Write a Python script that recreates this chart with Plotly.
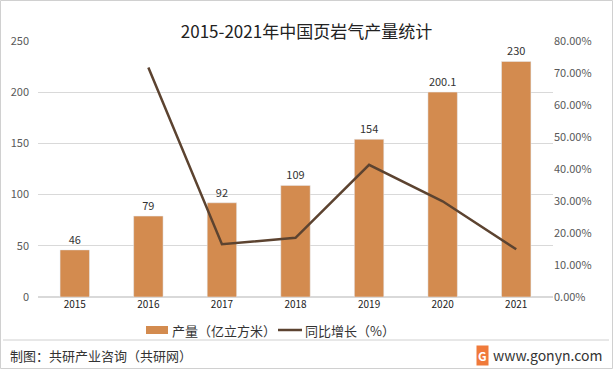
import plotly.graph_objects as go

years = ["2015", "2016", "2017", "2018", "2019", "2020", "2021"]
output = [46, 79, 92, 109, 154, 200.1, 230]
output_labels = ["46", "79", "92", "109", "154", "200.1", "230"]
growth_years = ["2016", "2017", "2018", "2019", "2020", "2021"]
growth = [0.717, 0.165, 0.185, 0.413, 0.299, 0.149]
series_names = ["产量（亿立方米）", "同比增长（%）"]

bar_color = "#D38B4F"
line_color = "#5C4330"
font = "Noto Sans CJK SC, Noto Sans, sans-serif"

W, H = 613, 369
L, R, T, B = 38, 60, 41, 72
PW, PH = W - L - R, H - T - B


def px(x):
    return (x - L) / PW


def py(y):
    return (H - B - y) / PH


fig = go.Figure()
fig.add_trace(go.Bar(
    x=years, y=output, name=series_names[0], marker_color=bar_color,
    text=output_labels, textposition="outside", cliponaxis=False,
    textfont=dict(size=11, color="#333333"), width=0.4,
))
fig.add_trace(go.Scatter(
    x=growth_years, y=growth, name=series_names[1], mode="lines",
    line=dict(color=line_color, width=2.5), yaxis="y2",
))

fig.update_layout(
    width=W, height=H,
    margin=dict(l=L, r=R, t=T, b=B),
    paper_bgcolor="white", plot_bgcolor="white",
    font=dict(family=font, color="#404040", size=11),
    title=dict(text="2015-2021年中国页岩气产量统计", x=0.5, xanchor="center",
               y=1 - 32 / H, yanchor="middle", font=dict(size=17, color="#222222")),
    xaxis=dict(showgrid=False, showline=False, ticks="", tickfont=dict(size=10, color="#222222")),
    yaxis=dict(range=[0, 250], dtick=50, showgrid=True, gridcolor="#D9D9D9",
               zeroline=True, zerolinecolor="#D9D9D9", tickfont=dict(size=11, color="#595959"),
               ticklabelstandoff=8),
    yaxis2=dict(range=[0, 0.8], dtick=0.1, overlaying="y", side="right",
                tickformat=".2%", showgrid=False, zeroline=False,
                tickfont=dict(size=11, color="#595959")),
    bargap=0.6,
    showlegend=False,
)

# manual legend
fig.add_shape(type="rect", xref="paper", yref="paper", x0=px(146), x1=px(168),
              y0=py(334), y1=py(326), fillcolor=bar_color, line=dict(width=0))
fig.add_annotation(text=series_names[0], xref="paper", yref="paper", x=px(170), y=py(330),
                   xanchor="left", yanchor="middle", showarrow=False,
                   font=dict(size=13, color="#333333"))
fig.add_shape(type="line", xref="paper", yref="paper", x0=px(278), x1=px(302),
              y0=py(330), y1=py(330), line=dict(color=line_color, width=2.5))
fig.add_annotation(text=series_names[1], xref="paper", yref="paper", x=px(303), y=py(330),
                   xanchor="left", yanchor="middle", showarrow=False,
                   font=dict(size=13, color="#333333"))

# outer border
fig.add_shape(type="rect", xref="paper", yref="paper", x0=px(0.5), x1=px(W - 0.5),
              y0=py(H - 0.5), y1=py(0.5), line=dict(color="#D0D0D0", width=1))
# footer separator
fig.add_shape(type="line", xref="paper", yref="paper", x0=px(3), x1=px(W - 4),
              y0=py(340), y1=py(340), line=dict(color="#D0D0D0", width=1))
fig.add_annotation(text="制图：共研产业咨询（共研网）", xref="paper", yref="paper",
                   x=px(8), y=py(355), xanchor="left", yanchor="middle",
                   showarrow=False, font=dict(size=13, color="#333333"))
fig.add_annotation(text="<b>G</b>", xref="paper", yref="paper",
                   x=px(482), y=py(355), xanchor="center", yanchor="middle",
                   showarrow=False, font=dict(size=12, color="white"), bgcolor="#F07A3A",
                   borderpad=1)
fig.add_annotation(text="www.gonyn.com", xref="paper", yref="paper",
                   x=px(604), y=py(355), xanchor="right", yanchor="middle",
                   showarrow=False, font=dict(size=14, color="#333333"))

fig.write_html("out.html", config={"displayModeBar": False},
               post_script="document.body.style.margin='0';document.body.style.overflow='hidden';")
